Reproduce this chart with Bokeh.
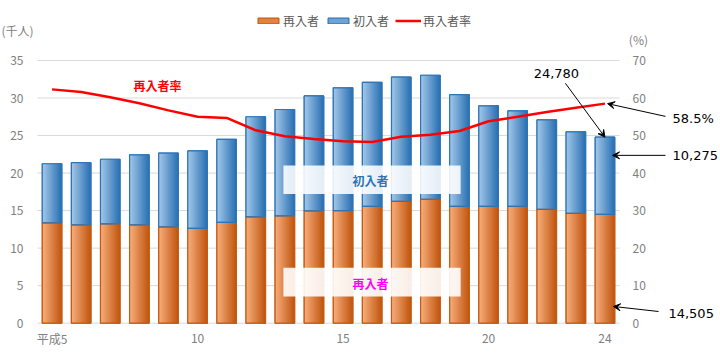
import numpy as np
from bokeh.plotting import figure
from bokeh.models import (Range1d, Legend, LegendItem, Label, Arrow, VeeHead,
                          BoxAnnotation)
from bokeh.core.properties import value
from bokeh.embed import file_html
from bokeh.resources import INLINE

# ---- data ----
year_labels = ["平成5", "6", "7", "8", "9", "10", "11", "12", "13", "14",
               "15", "16", "17", "18", "19", "20", "21", "22", "23", "24"]
xpos = list(range(1, 21))
total = [21.24, 21.38, 21.84, 22.43, 22.67, 22.95, 24.50, 27.50, 28.47, 30.28,
         31.36, 32.09, 32.79, 33.03, 30.45, 28.96, 28.29, 27.08, 25.50, 24.78]
reentry = [13.36, 13.09, 13.23, 13.09, 12.83, 12.64, 13.44, 14.16, 14.29, 14.96,
           15.01, 15.57, 16.24, 16.51, 15.57, 15.57, 15.57, 15.17, 14.64, 14.505]
rate = [62.3, 61.6, 60.2, 58.6, 56.7, 55.0, 54.7, 51.4, 49.8, 49.1,
        48.5, 48.3, 49.7, 50.2, 51.2, 53.8, 55.0, 56.3, 57.4, 58.5]
left_ticks = [0, 5, 10, 15, 20, 25, 30, 35]
right_ticks = [0, 10, 20, 30, 40, 50, 60, 70]
x_tick_pos = [1, 6, 11, 16, 20]

JP = "Noto Sans CJK JP"
GRAY = "#808080"

W, H = 720, 356
# data window chosen so the plotting frame spans the whole canvas
X0, X1 = -0.7715, 23.97
Y0, Y1 = -4.437, 42.99

p = figure(width=W, height=H, output_backend="svg", toolbar_location=None,
           x_range=Range1d(X0, X1), y_range=Range1d(Y0, Y1),
           x_axis_type=None, y_axis_type=None,
           min_border=0, outline_line_color=None)
p.extra_y_ranges = {"pct": Range1d(Y0 * 2, Y1 * 2)}

xa = np.array(xpos, dtype=float)
xlo, xhi = xa.min() - 0.5, xa.max() + 0.5

# horizontal grid lines (left-axis ticks)
p.segment(x0=[xlo] * len(left_ticks), x1=[xhi] * len(left_ticks),
          y0=left_ticks, y1=left_ticks, line_color="#D9D9D9", line_width=1)

# tick labels
p.text(x=[0.02] * len(left_ticks), y=left_ticks, text=[str(t) for t in left_ticks],
       text_align="right", text_baseline="middle", text_font=value(JP),
       text_font_size="12px", text_color=GRAY)
p.text(x=[20.95] * len(right_ticks), y=right_ticks, text=[str(t) for t in right_ticks],
       y_range_name="pct", text_align="left", text_baseline="middle",
       text_font=value(JP), text_font_size="12px", text_color=GRAY)
p.text(x=x_tick_pos, y=[-2.04] * len(x_tick_pos),
       text=[year_labels[i - 1] for i in x_tick_pos],
       text_align="center", text_baseline="middle", text_font=value(JP),
       text_font_size="12px", text_color=GRAY)

bw = 0.67
# base bars (solid mid colour; also serve as legend swatches)
base_o = p.vbar(x=xpos, width=bw, bottom=0, top=reentry,
                fill_color="#E3823F", line_color="#C55A11", line_width=1.2)
base_b = p.vbar(x=xpos, width=bw, bottom=reentry, top=total,
                fill_color="#6FA3D8", line_color="#2E75B6", line_width=1.2)

# gradient: overlapping strips, each running to the bar's right edge
N = 16
org_l, org_r = np.array([246, 172, 122]), np.array([194, 88, 18])
blu_l, blu_r = np.array([160, 198, 232]), np.array([44, 114, 180])
for i in range(N):
    t = i / (N - 1)
    oc = tuple(int(v) for v in org_l + (org_r - org_l) * t)
    bc = tuple(int(v) for v in blu_l + (blu_r - blu_l) * t)
    left = xa - bw / 2 + i * bw / N
    right = xa + bw / 2
    p.quad(left=left, right=right, bottom=0, top=reentry,
           fill_color="#%02x%02x%02x" % oc, line_color=None)
    p.quad(left=left, right=right, bottom=reentry, top=total,
           fill_color="#%02x%02x%02x" % bc, line_color=None)
p.vbar(x=xpos, width=bw, bottom=0, top=reentry, fill_alpha=0,
       line_color="#C55A11", line_width=1.2)
p.vbar(x=xpos, width=bw, bottom=reentry, top=total, fill_alpha=0,
       line_color="#2E75B6", line_width=1.2)

line_r = p.line(xpos, rate, y_range_name="pct", line_color="#FF0000", line_width=2.5)

legend = Legend(items=[LegendItem(label="再入者", renderers=[base_o]),
                       LegendItem(label="初入者", renderers=[base_b]),
                       LegendItem(label="再入者率", renderers=[line_r])],
                orientation="horizontal", location=(255, 327),
                border_line_color=None, background_fill_alpha=0,
                padding=0, margin=0, spacing=6, label_standoff=2,
                glyph_width=26, glyph_height=7, label_height=14,
                label_text_font=JP, label_text_font_size="12px",
                label_text_color="#595959")
p.add_layout(legend, "center")

# white boxes behind the in-chart labels
p.add_layout(BoxAnnotation(left=8.95, right=15.04, bottom=17.2, top=21.0,
                           fill_color="white", fill_alpha=0.88, line_color=None))
p.add_layout(BoxAnnotation(left=8.95, right=15.04, bottom=3.56, top=7.4,
                           fill_color="white", fill_alpha=0.9, line_color=None))

def lab(x, y, text, color="black", size="13px", font="DejaVu Sans", style="normal",
        align="left", y_range_name="default"):
    p.add_layout(Label(x=x, y=y, text=text, text_color=color, text_font_size=size,
                       text_font=font, text_font_style=style, text_align=align,
                       text_baseline="middle", y_range_name=y_range_name))

lab(4.62, 31.69, "再入者率", color="#FF0000", size="12px", font=JP, style="bold", align="center")
lab(11.94, 19.0, "初入者", color="#2E75B6", size="12px", font=JP, style="bold", align="center")
lab(11.94, 5.3, "再入者", color="#FF00FF", size="12px", font=JP, style="bold", align="center")
lab(-0.74, 39.0, "(千人)", color=GRAY, size="12px", font=JP)
lab(21.15, 37.76, "(%)", color=GRAY, size="12px", font=JP, align="center")

# callouts
lab(18.33, 33.33, "24,780", align="center")
lab(22.32, 27.3, "58.5%")
lab(22.32, 22.36, "10,275")
lab(22.18, 1.29, "14,505")

def arrow(x0, y0, x1, y1):
    p.add_layout(Arrow(x_start=x0, y_start=y0, x_end=x1, y_end=y1,
                       line_color="black", line_width=1,
                       end=VeeHead(size=7, fill_color="black", line_color="black"),
                       start=None))

arrow(18.64, 31.96, xpos[-1], total[-1])
arrow(22.08, 27.55, xpos[-1] + 0.09, rate[-1] / 2)
arrow(22.08, 22.36, 20.26, 22.36)
arrow(21.84, 1.56, 20.29, 2.23)

open("out.html", "w").write(file_html(p, INLINE))
